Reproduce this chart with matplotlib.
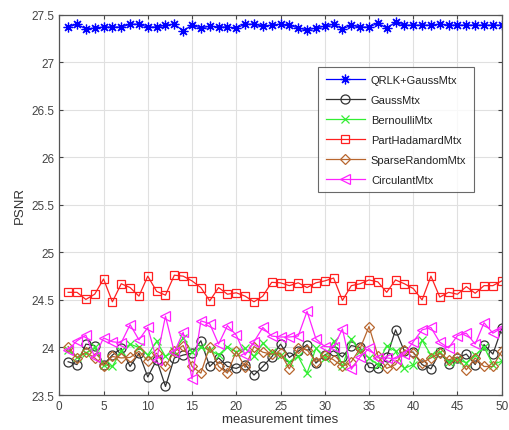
import matplotlib
matplotlib.use("Agg")
import matplotlib.pyplot as plt
import numpy as np

plt.rcParams['font.family'] = ['Liberation Sans', 'DejaVu Sans']

x = list(range(1, 51))

qrlk = [27.37, 27.40, 27.35, 27.36, 27.37, 27.37, 27.37, 27.40, 27.40, 27.37,
        27.37, 27.39, 27.40, 27.33, 27.39, 27.36, 27.38, 27.37, 27.37, 27.36,
        27.40, 27.40, 27.38, 27.39, 27.40, 27.39, 27.36, 27.34, 27.36, 27.38,
        27.40, 27.35, 27.39, 27.37, 27.37, 27.41, 27.36, 27.42, 27.39, 27.39,
        27.39, 27.39, 27.40, 27.39, 27.39, 27.39, 27.39, 27.39, 27.39, 27.39]

gauss = [23.85, 23.82, 24.035, 24.02, 23.82, 23.92, 23.99, 23.80, 23.94, 23.69,
         23.87, 23.59, 23.89, 23.92, 23.94, 24.07, 23.80, 23.89, 23.80, 23.78,
         23.82, 23.71, 23.80, 23.90, 24.035, 23.895, 23.96, 24.03, 23.835, 23.92,
         23.965, 23.90, 24.02, 24.00, 23.79, 23.78, 23.895, 24.185, 23.96, 23.95,
         23.82, 23.775, 23.95, 23.83, 23.89, 23.93, 23.82, 24.03, 23.93, 24.20]

bernoulli = [23.975, 23.895, 23.94, 24.00, 23.82, 23.80, 23.965, 24.035, 24.00, 23.92,
             24.065, 23.905, 23.96, 24.10, 23.95, 24.00, 23.975, 23.92, 24.01, 23.95,
             23.99, 23.905, 24.045, 23.95, 23.92, 23.85, 23.905, 23.73, 23.99, 23.89,
             24.065, 23.80, 24.09, 23.96, 23.89, 23.82, 24.02, 23.96, 23.78, 23.82,
             24.075, 23.92, 23.95, 23.85, 23.87, 23.84, 23.92, 24.005, 23.82, 23.855]

hadamard = [24.58, 24.58, 24.505, 24.56, 24.72, 24.48, 24.67, 24.63, 24.54, 24.75,
            24.59, 24.55, 24.76, 24.75, 24.70, 24.63, 24.49, 24.63, 24.56, 24.575,
            24.54, 24.48, 24.54, 24.685, 24.68, 24.65, 24.68, 24.63, 24.68, 24.70,
            24.73, 24.495, 24.65, 24.67, 24.71, 24.69, 24.58, 24.71, 24.67, 24.62,
            24.50, 24.75, 24.53, 24.58, 24.56, 24.64, 24.57, 24.65, 24.65, 24.70]

sparse = [24.01, 23.89, 23.95, 23.89, 23.81, 23.905, 23.89, 23.895, 23.96, 23.86,
          23.94, 23.80, 23.96, 24.02, 23.80, 23.73, 24.01, 23.80, 23.73, 23.96,
          23.79, 24.01, 23.95, 23.93, 23.94, 23.775, 23.99, 23.975, 23.85, 23.92,
          23.87, 23.80, 23.85, 23.99, 24.22, 23.915, 23.78, 23.82, 23.975, 23.945,
          23.84, 23.89, 23.94, 23.87, 23.90, 23.765, 23.89, 23.80, 23.80, 23.96]

circulant = [23.975, 24.07, 24.13, 23.90, 24.10, 24.06, 24.05, 24.24, 24.08, 24.21,
             23.87, 24.33, 23.95, 24.16, 23.67, 24.28, 24.25, 24.035, 24.23, 24.13,
             23.92, 24.06, 24.21, 24.12, 24.11, 24.11, 24.12, 24.38, 24.09, 24.01,
             24.005, 24.195, 23.77, 23.90, 23.99, 23.89, 23.89, 23.88, 23.93, 24.06,
             24.185, 24.21, 24.055, 23.995, 24.125, 24.15, 24.035, 24.26, 24.15, 24.205]

asterisk = (8, 2, 0)
series = [
    ("QRLK+GaussMtx", qrlk, "#0000ff", asterisk, 7),
    ("GaussMtx", gauss, "#333333", "o", 6.5),
    ("BernoulliMtx", bernoulli, "#33ee33", "x", 5.5),
    ("PartHadamardMtx", hadamard, "#ff2020", "s", 5.5),
    ("SparseRandomMtx", sparse, "#b8662e", "D", 5),
    ("CirculantMtx", circulant, "#ff22ff", "<", 6.5),
]

fig = plt.figure(figsize=(5.09, 4.31), dpi=100)
ax = fig.add_axes([0.1165, 0.0812, 0.8692, 0.8824])

for name, vals, col, mk, ms in series:
    ax.plot(x, vals, color=col, marker=mk, markersize=ms,
            markerfacecolor='none', markeredgecolor=col, markeredgewidth=0.9,
            linewidth=0.9, label=name)

ax.set_xlim(0, 50)
ax.set_ylim(23.5, 27.5)
ax.set_xticks(np.arange(0, 51, 5))
ax.set_yticks(np.arange(23.5, 27.51, 0.5))
ax.set_yticklabels(["23.5", "24", "24.5", "25", "25.5", "26", "26.5", "27", "27.5"])
ax.grid(True, color='#e0e0e0', linewidth=0.8)
ax.set_axisbelow(True)
ax.tick_params(direction='in', top=True, right=True, labelsize=8.5,
               colors='#444444', length=3, width=0.8)
for sp in ax.spines.values():
    sp.set_color('#555555')
    sp.set_linewidth(0.9)
ax.set_xlabel("measurement times", fontsize=9.5, color='#333333', labelpad=1)
ax.set_ylabel("PSNR", fontsize=9.5, color='#333333', labelpad=4)

leg = ax.legend(loc='upper left', bbox_to_anchor=(0.585, 0.863), fontsize=8,
                frameon=True, fancybox=False, edgecolor='#444444',
                borderaxespad=0, borderpad=0.7, labelspacing=0.9,
                handlelength=3.5, handletextpad=0.55)
leg.get_frame().set_linewidth(0.8)
for t in leg.get_texts():
    t.set_color('#222222')

fig.savefig("out.png", dpi=100)
